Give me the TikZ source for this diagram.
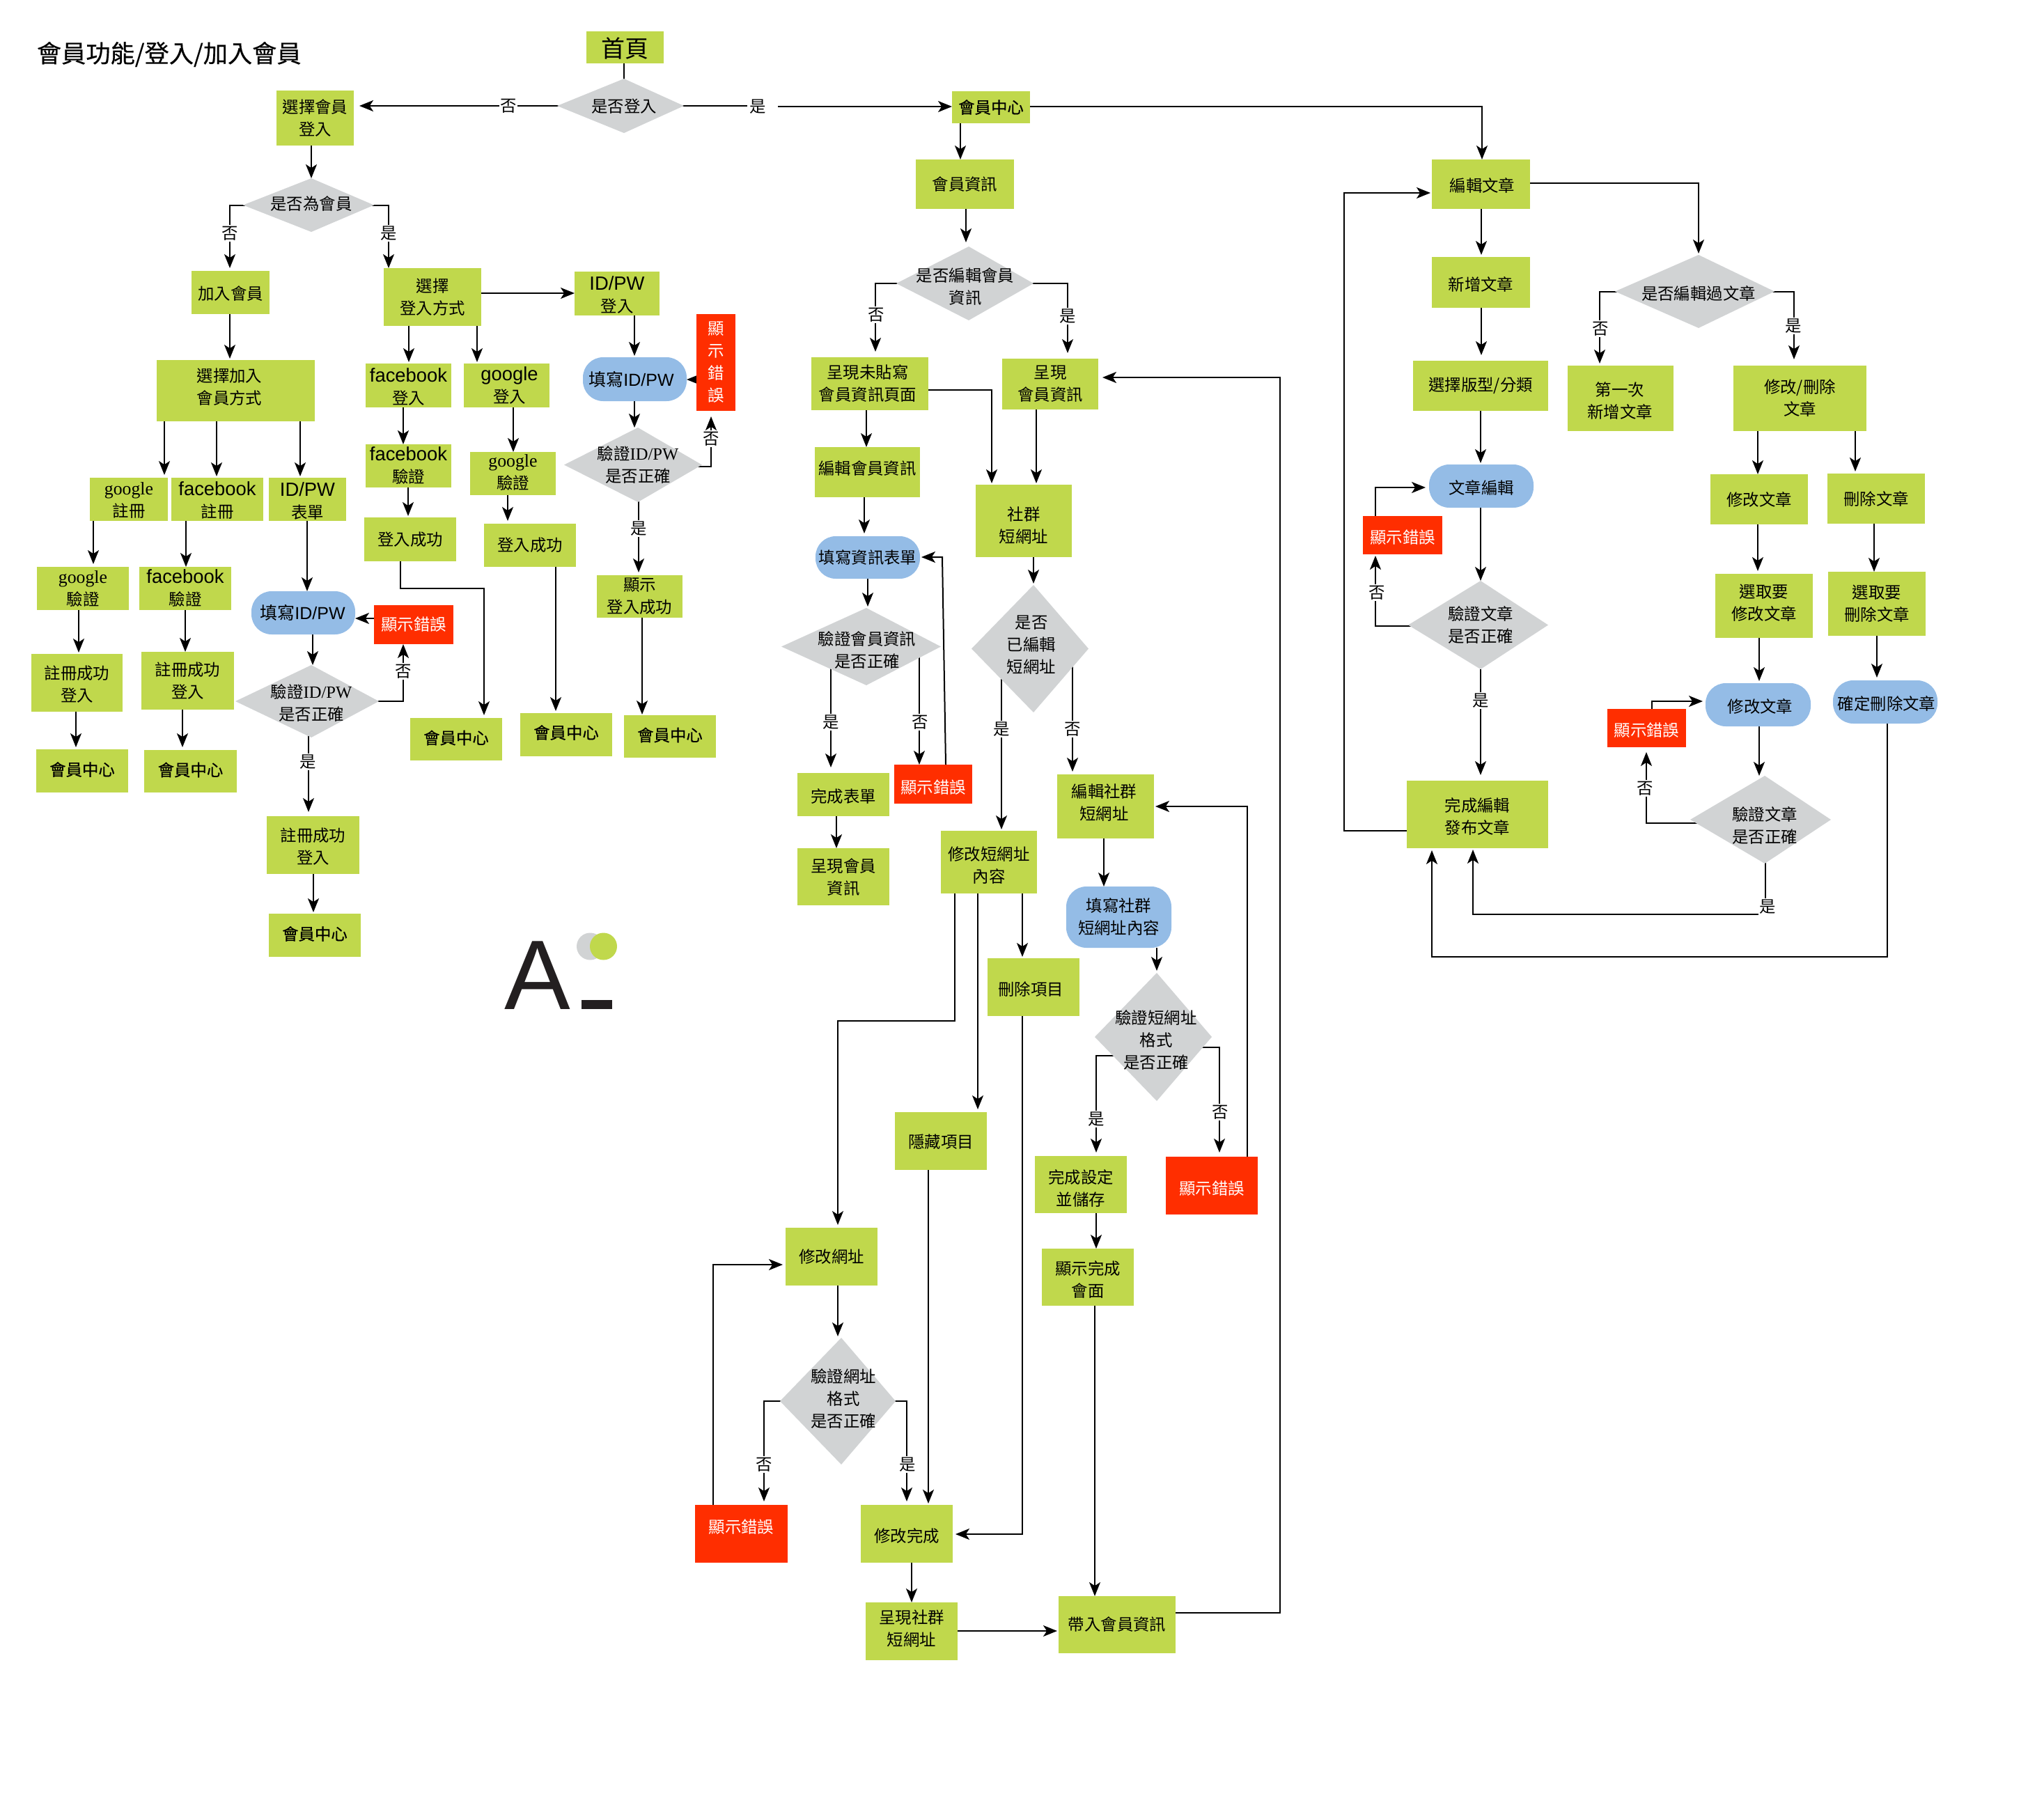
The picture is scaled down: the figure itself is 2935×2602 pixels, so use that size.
\documentclass[tikz,border=0pt]{standalone}
\usepackage{fontspec}
\setmainfont{Noto Sans CJK TC}
\newfontfamily\cjkb[FakeBold=0.35]{Noto Sans CJK TC}
\newfontfamily\lats{Liberation Sans}
\newfontfamily\lsrf{Liberation Serif}
\usetikzlibrary{arrows.meta,shapes.geometric,backgrounds}
\definecolor{gbox}{HTML}{C0D84C}
\definecolor{gdia}{HTML}{D1D3D4}
\definecolor{bpill}{HTML}{94BCE6}
\definecolor{rbox}{HTML}{FF2E00}
\definecolor{ink}{HTML}{231F20}
\tikzset{
  x=0.5pt,y=0.5pt,
  basetxt/.style={font=\fontsize{11.7}{16}\selectfont,align=center,inner sep=0pt,outer sep=0pt,text=black},
  boxshape/.style={},
  txtstyle/.style={},
  gb/.style={boxshape/.style={fill=gbox},txtstyle/.style={}},
  gc/.style={boxshape/.style={fill=gbox},txtstyle/.style={font=\fontsize{11.7}{16}\cjkb\selectfont}},
  gh/.style={boxshape/.style={fill=gbox},txtstyle/.style={font=\fontsize{17}{20}\selectfont}},
  rb/.style={boxshape/.style={fill=rbox},txtstyle/.style={text=white}},
  bp/.style={boxshape/.style={fill=bpill,rounded corners=14.5pt},txtstyle/.style={}},
  bq/.style={boxshape/.style={fill=bpill,rounded corners=14.5pt},txtstyle/.style={font=\fontsize{12.5}{16}\selectfont}},
  gu/.style={boxshape/.style={fill=ink},txtstyle/.style={}},
  lbl/.style={basetxt,fill=white,inner xsep=0.5pt,inner ysep=1pt},
  ln/.style={line width=1pt,draw=black},
  arr/.style={ln,-{Stealth[length=10pt,width=8pt,inset=2.6pt]}},
  gap/.style={shorten >=#1},
}
% box: [text shift in px]{kind}{name}{x1}{y1}{x2}{y2}{text}
\newcommand{\bx}[7][0,0]{\begin{scope}[#2]
  \node[boxshape,rectangle,inner sep=0pt,outer sep=0pt,minimum width={(#6-#4)*0.5pt},minimum height={(#7-#5)*0.5pt}] (#3) at ({(#4+#6)/2},{-(#5+#7)/2}) {};
  \end{scope}\def\bxshift{#1}\def\bxkind{#2}\def\bxname{#3}\bxtext}
\newcommand{\bxtext}[1]{\begin{scope}[style/.expand once=\bxkind]
  \node[basetxt,txtstyle,shift={(\bxshift)}] (\bxname t) at (\bxname.center) {#1};
  \end{scope}}
% kite-shaped decision: [text shift]{name}{xL}{yT}{xR}{yB}{xApex}{text}
\newcommand{\dm}[7][0,0]{%
  \fill[gdia] (#3,{-(#4+#6)/2}) -- (#7,-#4) -- (#5,{-(#4+#6)/2}) -- (#7,-#6) -- cycle;
  \coordinate (#2C) at (#7,{-(#4+#6)/2});
  \coordinate (#2N) at (#7,-#4);
  \coordinate (#2S) at (#7,-#6);
  \def\bxshift{#1}\def\bxname{#2}\dmtext}
\newcommand{\dmtext}[1]{\node[basetxt,shift={(\bxshift)}] (\bxname) at (\bxname C) {#1};}
\newcommand{\lb}[4]{\node[lbl] (#1) at (#2,-#3) {#4};}
\newcommand{\vc}[4][]{\draw[arr,#1] (#2.south -| #4,0) -- (#3.north -| #4,0);}
\newcommand{\vd}[4][]{\draw[arr,#1] (#2.south -| #4,0) -- (#3N -| #4,0);}
\newcommand{\fbk}{{\lats\fontsize{13.7}{16}\selectfont facebook}}
\newcommand{\ggl}{{\lsrf\fontsize{12.9}{16}\selectfont google}}
\newcommand{\idp}{{\lats\fontsize{13.7}{16}\selectfont ID/PW}}
\newcommand{\idq}{{\lats\fontsize{12.5}{16}\selectfont ID/PW}}
\newcommand{\ids}{{\lsrf\fontsize{12.3}{16}\selectfont ID/PW}}
\begin{document}
\begin{tikzpicture}
\useasboundingbox (0,0) rectangle (2935,-2602);
% title
\node[basetxt,anchor=west,font=\fontsize{17.6}{20}\cjkb\selectfont] (title) at (53,-78) {會員功能/登入/加入會員};
% column 1: login
\bx[0,-2]{gh}{home}{842}{45}{953}{91}{首頁}
\dm[0,-1]{dLogin}{800}{113}{982}{191}{896}{是否登入}
\bx{gb}{selM}{397}{130}{508}{209}{選擇會員\\登入}
\dm[0,2]{dMem}{349}{256}{537}{333}{447}{是否為會員}
\bx[0,-2]{gb}{joinM}{275}{389}{387}{451}{加入會員}
\bx{gb}{selL}{551}{385}{691}{468}{選擇\\登入方式}
\bx[0,-2]{gb}{idL}{825}{390}{947}{453}{\idp\\登入}
\bx[-9,5]{gb}{joinW}{225}{517}{452}{605}{選擇加入\\會員方式}
\bx[0,-2]{gb}{fbL}{525}{522}{648}{585}{\fbk\\登入}
\bx[4,0]{gb}{ggL}{666}{522}{789}{585}{{\lats\fontsize{13.7}{16}\selectfont google}\\登入}
\bx[-5,0]{bq}{fillT}{837}{513}{986}{576}{填寫\idq}
\bx{rb}{errV}{1000}{451}{1056}{590}{顯\\示\\錯\\誤}
\dm{dIdT}{810}{614}{1008}{721}{916}{驗證\ids\\是否正確}
\bx{gb}{okT}{857}{826}{980}{887}{顯示\\登入成功}
\bx[0,2]{gc}{mcT}{896}{1027}{1028}{1088}{會員中心}
\bx{gb}{fbV}{525}{638}{648}{700}{\fbk\\驗證}
\bx{gb}{okF}{523}{743}{655}{806}{登入成功}
\bx[0,2]{gb}{ggV}{675}{649}{798}{711}{\ggl\\驗證}
\bx{gb}{okG}{695}{752}{827}{814}{登入成功}
\bx[0,2]{gc}{mcF}{589}{1031}{721}{1092}{會員中心}
\bx[0,3]{gc}{mcG}{747}{1024}{879}{1086}{會員中心}
\bx[0,-2]{gb}{ggR}{129}{686}{241}{748}{\ggl\\註冊}
\bx[0,-2]{gb}{fbR}{246}{686}{378}{748}{\fbk\\註冊}
\bx[0,-2]{gb}{idR}{386}{686}{497}{748}{\idp\\表單}
\bx{gb}{ggV2}{53}{814}{185}{876}{\ggl\\驗證}
\bx{gb}{fbV2}{200}{814}{332}{876}{\fbk\\驗證}
\bx[0,-2]{gb}{regG}{45}{939}{176}{1022}{註冊成功\\登入}
\bx{gb}{regF}{203}{936}{336}{1019}{註冊成功\\登入}
\bx[0,2]{gc}{mcRG}{52}{1076}{184}{1138}{會員中心}
\bx[0,2]{gc}{mcRF}{207}{1077}{340}{1138}{會員中心}
\bx[-1,0]{bq}{fillL}{361}{849}{510}{911}{填寫\idq}
\bx{rb}{errL}{537}{869}{651}{925}{顯示錯誤}
\dm[0,-2]{dIdL}{338}{955}{544}{1059}{447}{驗證\ids\\是否正確}
\bx[0,-2]{gb}{regL}{383}{1172}{516}{1255}{註冊成功\\登入}
\bx[0,2]{gc}{mcL}{386}{1312}{518}{1374}{會員中心}
% logo
\node[circle,fill=gdia,minimum size=19.5pt,inner sep=0pt] (logoG) at (847.5,-1359) {};
\node[circle,fill=gbox,minimum size=19.5pt,inner sep=0pt] (logoL) at (866.5,-1359) {};
\node[anchor=base,inner sep=0pt,text=ink,font=\lats\fontsize{71}{71}\selectfont] (logoA) at (772,-1449) {A};
\bx{gu}{logoU}{835}{1436}{879}{1449}{}
% column 2: member info
\bx{gc}{mc}{1367}{131}{1479}{177}{會員中心}
\bx{gb}{info}{1315}{229}{1456}{300}{會員資訊}
\dm[-5,-5]{dEdit}{1287}{354}{1484}{460}{1391}{是否編輯會員\\資訊}
\bx[-3,0]{gb}{blank}{1165}{513}{1333}{589}{呈現未貼寫\\會員資訊頁面}
\bx{gb}{showI}{1439}{515}{1577}{588}{呈現\\會員資訊}
\bx[0,5]{gb}{edM}{1170}{642}{1321}{714}{編輯會員資訊}
\bx{bp}{fillF}{1171}{770}{1321}{831}{填寫資訊表單}
\dm[1,-5]{dF}{1122}{873}{1351}{984}{1244}{驗證會員資訊\\是否正確}
\bx[0,-3]{gb}{doneF}{1145}{1110}{1277}{1172}{完成表單}
\bx[0,-5]{rb}{errF}{1284}{1098}{1396}{1154}{顯示錯誤}
\bx[0,-1]{gb}{showM}{1145}{1218}{1277}{1300}{呈現會員\\資訊}
\bx[0,-7]{gb}{soc}{1401}{696}{1539}{800}{社群\\短網址}
\dm[-3,5]{dSoc}{1395}{840}{1563}{1023}{1484}{是否\\已編輯\\短網址}
\bx[0,-5]{gb}{editS}{1351}{1193}{1489}{1283}{修改短網址\\內容}
\bx[-4,-3]{gb}{del}{1418}{1376}{1550}{1459}{刪除項目}
\bx[0,-1]{gb}{hideI}{1285}{1597}{1417}{1680}{隱藏項目}
\bx{gb}{modU}{1128}{1763}{1260}{1846}{修改網址}
\dm[3,4]{dU}{1120}{1921}{1286}{2103}{1208}{驗證網址\\格式\\是否正確}
\bx[0,10]{rb}{errU}{998}{2161}{1131}{2244}{顯示錯誤}
\bx[0,-3]{gb}{doneU}{1236}{2161}{1368}{2244}{修改完成}
\bx[0,4]{gb}{showS}{1243}{2301}{1375}{2384}{呈現社群\\短網址}
\bx{gb}{bring}{1520}{2292}{1688}{2374}{帶入會員資訊}
\bx[-2,5]{gb}{edS}{1518}{1112}{1657}{1204}{編輯社群\\短網址}
\bx{bp}{fillS}{1531}{1273}{1682}{1361}{填寫社群\\短網址內容}
\dm[-1,-4]{dS}{1572}{1397}{1740}{1581}{1661}{驗證短網址\\格式\\是否正確}
\bx[0,-5]{gb}{doneS}{1486}{1660}{1618}{1742}{完成設定\\並儲存}
\bx[0,-4]{rb}{errS}{1674}{1661}{1806}{1744}{顯示錯誤}
\bx[0,-3]{gb}{showD}{1496}{1793}{1628}{1875}{顯示完成\\會面}
% column 3: articles
\bx[2,-2]{gb}{edA}{2056}{229}{2197}{300}{編輯文章}
\bx[0,-3]{gb}{newA}{2056}{369}{2197}{442}{新增文章}
\bx{gb}{tpl}{2029}{518}{2223}{590}{選擇版型/分類}
\bx[0,-2]{bp}{artE}{2052}{667}{2202}{729}{文章編輯}
\dm{dA}{2022}{834}{2223}{961}{2126}{驗證文章\\是否正確}
\bx[0,-3]{rb}{errA}{1957}{741}{2071}{796}{顯示錯誤}
\bx[0,-3]{gb}{pub}{2020}{1121}{2223}{1218}{完成編輯\\發布文章}
\dm[0,-3]{dEver}{2319}{366}{2548}{471}{2439}{是否編輯過文章}
\bx[-1,-3]{gb}{first}{2251}{525}{2403}{619}{第一次\\新增文章}
\bx{gb}{modDel}{2489}{525}{2680}{619}{修改/刪除\\文章}
\bx{gb}{modA}{2456}{681}{2596}{753}{修改文章}
\bx{gb}{delA}{2624}{680}{2764}{752}{刪除文章}
\bx[0,4]{gb}{pickM}{2463}{824}{2603}{916}{選取要\\修改文章}
\bx{gb}{pickD}{2625}{821}{2765}{913}{選取要\\刪除文章}
\bx[3,-2]{bp}{modB}{2449}{981}{2600}{1043}{修改文章}
\bx[2,-2]{bp}{delB}{2632}{977}{2782}{1039}{確定刪除文章}
\dm[0,-8]{dB}{2427}{1114}{2629}{1240}{2534}{驗證文章\\是否正確}
\bx[0,-3]{rb}{errB}{2308}{1018}{2421}{1073}{顯示錯誤}
% helper coordinates
\coordinate (c1) at (2535,-1313);
\coordinate (c2) at (2710,-1374);
\coordinate (c3) at (1930,-1193);
\coordinate (c4) at (575,-845);
\coordinate (c5) at (1371,-1466);
\coordinate (c6) at (1468,-2203);
\coordinate (c7) at (1024,-1816);
\coordinate (c8) at (1791,-1158);
\coordinate (c9) at (1838,-2316);
\coordinate (c10) at (1353,-800);
\coordinate (c11) at (1975,-700);
\coordinate (c12) at (2372,-1007);
\coordinate (c13) at (2128,-153);
\coordinate (c14) at (2439,-263);
\coordinate (c15) at (1424,-560);
\coordinate (c16) at (1073,-152);
\coordinate (c17) at (1117,-153);
% connectors, beneath the nodes
\begin{scope}[on background layer]
\draw[ln] (home.south -| 896,0) -- (dLoginC -| 896,0);
\draw[arr,gap=4pt] (dLoginC) -- (selM.east |- dLoginC);
\draw[ln] (dLoginC) -- (c16);
\draw[arr] (c17) -- (mc.west |- c17);
\vd{selM}{dMem}{447}
\draw[arr,gap=2pt] (dMemC) -| (joinM.north -| 330,0);
\draw[arr] (dMemC) -| (selL.north -| 558,0);
\draw[arr] (selL.east |- 0,-421) -- (idL.west |- 0,-421);
\vc[gap=1pt]{joinM}{joinW}{330}
\vc[gap=1pt]{selL}{fbL}{587}
\vc[gap=1pt]{selL}{ggL}{685}
\vc[gap=1pt]{idL}{fillT}{911}
\draw[arr] (errV.west |- 0,-545) -- (fillT.east |- 0,-545);
\vd{fillT}{dIdT}{911}
\draw[arr,gap=4pt] (dIdTC |- 0,-670) -| (errV.south -| 1021,0);
\draw[arr,gap=2pt] (dIdTC -| 917,0) -- (okT.north -| 917,0);
\vc{fbL}{fbV}{579}
\vc[gap=1pt]{fbV}{okF}{586}
\vc{ggL}{ggV}{737}
\vc[gap=2pt]{ggV}{okG}{729}
\draw[arr,gap=2pt] (okF.south -| c4) -- (c4) -| (mcF.north -| 695,0);
\vc[gap=1.5pt]{okG}{mcG}{798}
\vc[gap=0.5pt]{okT}{mcT}{922}
\vc[gap=2pt]{joinW}{ggR}{236}
\vc[gap=1pt]{joinW}{fbR}{311}
\vc[gap=1pt]{joinW}{idR}{431}
\vc[gap=2pt]{ggR}{ggV2}{134}
\vc{fbR}{fbV2}{267}
\vc[gap=1pt]{ggV2}{regG}{113}
\vc{fbV2}{regF}{266}
\vc[gap=1.5pt]{regG}{mcRG}{109}
\vc[gap=2pt]{regF}{mcRF}{262}
\vc{idR}{fillL}{441}
\draw[arr] (errL.west |- 0,-888) -- (fillL.east |- 0,-888);
\vd{fillL}{dIdL}{449}
\draw[arr] (dIdLC) -| (errL.south -| 579,0);
\draw[arr,gap=3pt] (dIdLC -| 443,0) -- (regL.north -| 443,0);
\vc[gap=1pt]{regL}{mcL}{450}
% member info
\vc{mc}{info}{1379}
\vd[gap=3pt]{info}{dEdit}{1387}
\draw[arr,gap=4pt] (dEditC) -| (blank.north -| 1257,0);
\draw[arr,gap=4pt] (dEditC) -| (showI.north -| 1533,0);
\draw[arr,gap=1pt] (blank.east |- c15) -- (c15) -- (soc.north -| c15);
\vc[gap=1pt]{showI}{soc}{1488}
\vc{blank}{edM}{1244}
\vc[gap=2pt]{edM}{fillF}{1241}
\vd[gap=1pt]{fillF}{dF}{1246}
\draw[arr,gap=4pt] (dFC -| 1193,0) -- (doneF.north -| 1193,0);
\draw[arr] (dFC -| 1320,0) -- (errF.north -| 1320,0);
\draw[arr,gap=1pt] (errF.north -| 1358,0) -- (c10) -- (fillF.east |- c10);
\vc{doneF}{showM}{1201}
\vd[gap=1pt]{soc}{dSoc}{1484}
\draw[arr,gap=1pt] (dSocC -| 1438,0) -- (editS.north -| 1438,0);
\draw[arr,gap=2pt] (dSocC -| 1540,0) -- (edS.north -| 1540,0);
\draw[arr,gap=2pt] (editS.south -| c5) -- (c5) -| (modU.north -| 1203,0);
\vc[gap=2pt]{editS}{hideI}{1404}
\vc[gap=1pt]{editS}{del}{1468}
\draw[arr,gap=2pt] (del.south -| c6) -- (c6) -- (doneU.east |- c6);
\draw[arr,gap=1pt] (hideI.south -| 1333,0) -- (doneU.north -| 1333,0);
\vd[gap=1pt]{modU}{dU}{1203}
\draw[arr,gap=2.5pt] (dUC) -| (errU.north -| 1097,0);
\draw[arr,gap=2.5pt] (dUC) -| (doneU.north -| 1302,0);
\draw[arr,gap=2pt] (errU.north -| c7) -- (c7) -- (modU.west |- c7);
\vc{doneU}{showS}{1309}
\draw[arr,gap=1pt] (showS.east |- 0,-2342) -- (bring.west |- 0,-2342);
\draw[arr,gap=3pt] (bring.east |- c9) -- (c9) |- (showI.east |- 0,-542);
\vc{edS}{fillS}{1585}
\vd[gap=1.5pt]{fillS}{dS}{1661}
\draw[arr,gap=2.5pt] (dSC |- 0,-1516) -| (doneS.north -| 1574,0);
\draw[arr,gap=3pt] (dSC |- 0,-1504) -| (errS.north -| 1751,0);
\vc{doneS}{showD}{1574}
\vc{showD}{bring}{1572}
\draw[arr,gap=1pt] (errS.north -| c8) -- (c8) -- (edS.east |- c8);
% articles
\draw[arr] (mc.east |- c13) -- (c13) -- (edA.north -| c13);
\vc[gap=1.5pt]{edA}{newA}{2127}
\vc[gap=4pt]{newA}{tpl}{2127}
\vc[gap=1pt]{tpl}{artE}{2126}
\vd{artE}{dA}{2126}
\draw[arr,gap=1pt] (dAC |- 0,-899) -| (errA.south -| 1975,0);
\draw[arr,gap=2.5pt] (errA.north -| c11) -- (c11) -- (artE.west |- c11);
\draw[arr,gap=4pt] (dAS -| 2126,0) -- (pub.north -| 2126,0);
\draw[arr,gap=1pt] (pub.west |- c3) -- (c3) |- (edA.west |- 0,-277);
\draw[arr,gap=1pt] (edA.east |- c14) -- (c14) -- (dEverN);
\draw[arr,gap=1.5pt] (dEverC) -| (first.north -| 2297,0);
\draw[arr,gap=4.5pt] (dEverC) -| (modDel.north -| 2576,0);
\vc{modDel}{modA}{2524}
\vc[gap=1.5pt]{modDel}{delA}{2664}
\vc[gap=2pt]{modA}{pickM}{2524}
\vc{delA}{pickD}{2691}
\vc[gap=1.5pt]{pickM}{modB}{2526}
\vc[gap=2pt]{pickD}{delB}{2695}
\draw[arr] (modB.south -| 2526,0) -- (dBN -| 2526,0);
\draw[arr,gap=3.5pt] (dBC |- 0,-1182) -| (errB.south -| 2364,0);
\draw[arr,gap=2pt] (errB.north -| c12) -- (c12) -- (modB.west |- c12);
\draw[arr,gap=1pt] (dBC -| c1) -- (c1) -| (pub.south -| 2115,0);
\draw[arr,gap=1.5pt] (delB.south -| c2) -- (c2) -| (pub.south -| 2056,0);
\end{scope}
% yes / no labels
\lb{l1}{730}{152}{否}
\lb{l2}{1088}{153}{是}
\lb{l3}{330}{335}{否}
\lb{l4}{558}{335}{是}
\lb{l5}{1021}{630}{否}
\lb{l6}{917}{759}{是}
\lb{l7}{579}{964}{否}
\lb{l8}{442}{1094}{是}
\lb{l9}{1258}{452}{否}
\lb{l10}{1533}{454}{是}
\lb{l11}{1193}{1037}{是}
\lb{l12}{1321}{1037}{否}
\lb{l13}{1438}{1047}{是}
\lb{l14}{1540}{1047}{否}
\lb{l15}{1574}{1607}{是}
\lb{l16}{1752}{1597}{否}
\lb{l17}{1097}{2103}{否}
\lb{l18}{1303}{2103}{是}
\lb{l19}{1977}{851}{否}
\lb{l20}{2126}{1006}{是}
\lb{l21}{2298}{472}{否}
\lb{l22}{2575}{468}{是}
\lb{l23}{2362}{1132}{否}
\lb{l24}{2538}{1302}{是}
\end{tikzpicture}
\end{document}
